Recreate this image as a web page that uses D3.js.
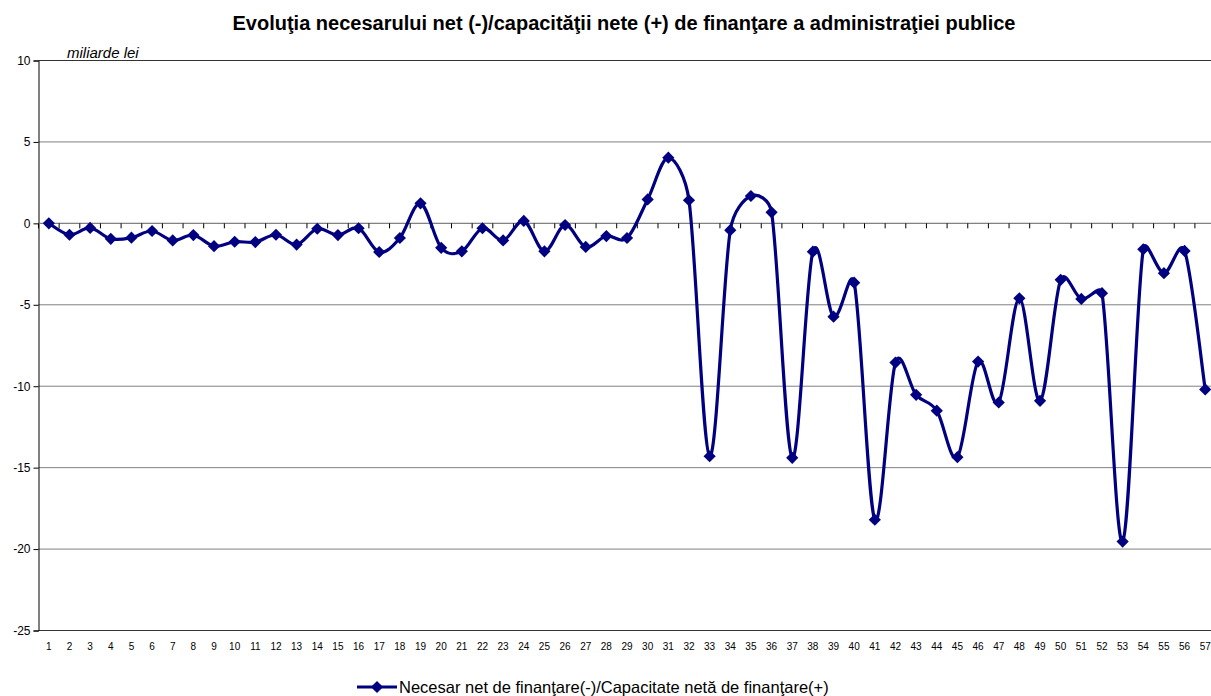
<!DOCTYPE html>
<html lang="ro">
<head>
<meta charset="UTF-8">
<title>Evoluţia necesarului net</title>
<style>
  body { margin: 0; background: #fff; overflow: hidden; }
  svg { display: block; font-family: "Liberation Sans", Arial, sans-serif; }
</style>
</head>
<body>
<svg id="chart" width="1211" height="696"></svg>
<script src="https://d3js.org/d3.v7.min.js"></script>
<script>
// values (miliarde lei)
var categories = d3.range(1, 58).map(String);
var values = [
  0.0, -0.7, -0.28, -0.95, -0.88, -0.47, -1.05, -0.72, -1.4, -1.13,
  -1.15, -0.7, -1.3, -0.33, -0.72, -0.3, -1.76, -0.9, 1.23, -1.5,
  -1.72, -0.3, -1.05, 0.15, -1.72, -0.1, -1.45, -0.78, -0.9, 1.47,
  4.03, 1.42, -14.3, -0.42, 1.68, 0.68, -14.4, -1.74, -5.73, -3.64,
  -18.2, -8.55, -10.53, -11.5, -14.36, -8.49, -11.0, -4.6, -10.9, -3.47,
  -4.64, -4.29, -19.54, -1.59, -3.06, -1.69, -10.2
];
var yTicks = [10, 5, 0, -5, -10, -15, -20, -25];
var title = "Evoluţia necesarului net (-)/capacităţii nete (+) de finanţare a administraţiei publice";
var unitLabel = "miliarde lei";
var seriesName = "Necesar net de finanţare(-)/Capacitate netă de finanţare(+)";

(function () {
  var svg = d3.select("#chart");
  var plotLeft = 38.5, plotTop = 60.5, plotBottom = 630.5;
  var band = 20.65;
  var plotRight = plotLeft + band * categories.length;
  var color = "#000080";

  var x = d3.scaleBand().domain(categories).range([plotLeft, plotRight]);
  var y = d3.scaleLinear().domain([-25, 10]).range([plotBottom, plotTop]);

  // gridlines
  svg.append("g").selectAll("line")
    .data(yTicks)
    .enter().append("line")
    .attr("x1", plotLeft).attr("x2", plotRight)
    .attr("y1", d => y(d)).attr("y2", d => y(d))
    .attr("stroke", d => (d === 10 || d === -25) ? "#333" : "#808080")
    .attr("stroke-width", 1);

  // y axis (plain hyphen for negatives, like the original)
  var yAxis = svg.append("g")
    .attr("transform", "translate(" + plotLeft + ",0)")
    .call(d3.axisLeft(y).tickValues(yTicks).tickSize(5).tickPadding(3).tickFormat(d => String(d)));
  yAxis.select(".domain").attr("stroke", "#000");
  yAxis.selectAll("text").attr("font-size", 12).attr("fill", "#000")
    .attr("font-family", "Liberation Sans, Arial, sans-serif");

  // x axis along zero, ticks between categories
  var xAxis = svg.append("g")
    .attr("transform", "translate(0," + y(0) + ")");
  xAxis.append("line")
    .attr("x1", plotLeft).attr("x2", plotRight)
    .attr("stroke", "#808080");
  xAxis.selectAll("line.tick")
    .data(d3.range(categories.length + 1))
    .enter().append("line")
    .attr("class", "tick")
    .attr("x1", i => plotLeft + i * band).attr("x2", i => plotLeft + i * band)
    .attr("y1", 0).attr("y2", 5)
    .attr("stroke", "#000");

  // category labels at bottom
  svg.append("g").selectAll("text")
    .data(categories)
    .enter().append("text")
    .attr("x", d => x(d) + x.bandwidth() / 2)
    .attr("y", plotBottom + 19)
    .attr("text-anchor", "middle")
    .attr("font-size", 10)
    .text(d => d);

  // unit label
  svg.append("text")
    .attr("x", 67).attr("y", 58)
    .attr("font-size", 15).attr("font-style", "italic")
    .text(unitLabel);

  // title
  svg.append("text")
    .attr("x", 624).attr("y", 30)
    .attr("text-anchor", "middle")
    .attr("font-size", 20).attr("font-weight", "bold")
    .text(title);

  // series: Excel-like smoothed line (control points capped to half a segment)
  var pts = values.map((v, i) => [x(categories[i]) + x.bandwidth() / 2, y(v)]);
  function dist(a, b) { return Math.hypot(b[0] - a[0], b[1] - a[1]); }
  var p = d3.path();
  p.moveTo(pts[0][0], pts[0][1]);
  for (var i = 0; i < pts.length - 1; i++) {
    var p0 = pts[Math.max(i - 1, 0)], p1 = pts[i], p2 = pts[i + 1], p3 = pts[Math.min(i + 2, pts.length - 1)];
    var d12 = dist(p1, p2), d02 = dist(p0, p2), d13 = dist(p1, p3);
    var f1 = d02 / 6 > d12 / 2 ? (d12 / 2) / d02 : 1 / 6;
    var f2 = d13 / 6 > d12 / 2 ? (d12 / 2) / d13 : 1 / 6;
    p.bezierCurveTo(
      p1[0] + (p2[0] - p0[0]) * f1, p1[1] + (p2[1] - p0[1]) * f1,
      p2[0] - (p3[0] - p1[0]) * f2, p2[1] - (p3[1] - p1[1]) * f2,
      p2[0], p2[1]);
  }
  svg.append("path")
    .attr("d", p.toString())
    .attr("fill", "none")
    .attr("stroke", color)
    .attr("stroke-width", 3.2);

  var diamond = d3.symbol().type(d3.symbolDiamond2).size(95);
  svg.append("g").selectAll("path")
    .data(pts)
    .enter().append("path")
    .attr("transform", d => "translate(" + d[0] + "," + d[1] + ")")
    .attr("d", diamond)
    .attr("fill", color);

  // legend
  var lg = svg.append("g").attr("transform", "translate(0,687)");
  lg.append("line").attr("x1", 357).attr("x2", 397)
    .attr("stroke", color).attr("stroke-width", 3.2);
  lg.append("path").attr("transform", "translate(377,0)")
    .attr("d", diamond).attr("fill", color);
  lg.append("text").attr("x", 399).attr("y", 6)
    .attr("font-size", 16.5).text(seriesName);
})();
</script>
</body>
</html>
